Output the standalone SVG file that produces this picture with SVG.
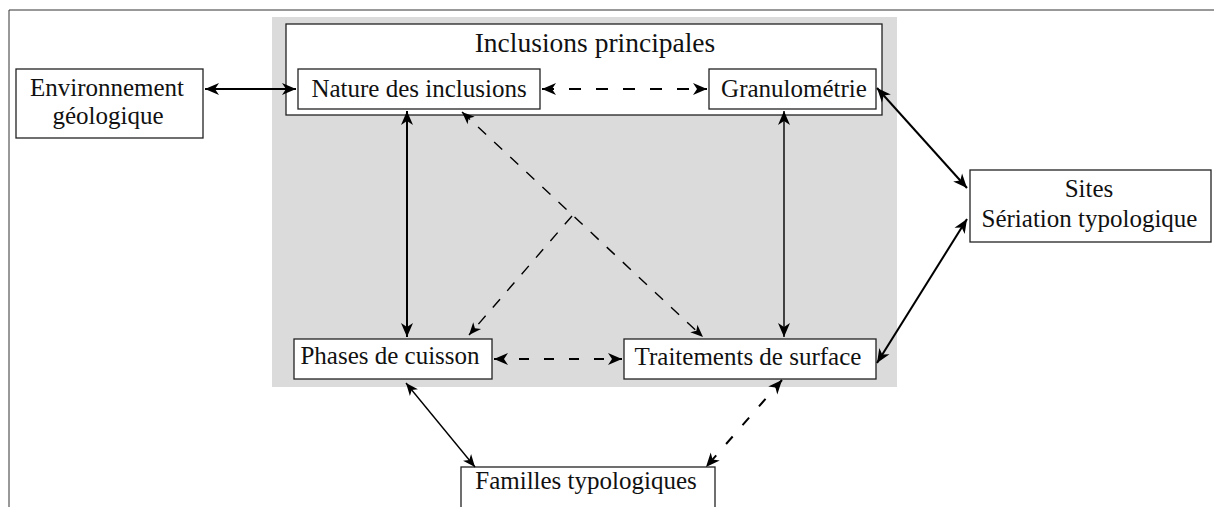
<svg xmlns="http://www.w3.org/2000/svg" width="1214" height="507" viewBox="0 0 1214 507">
<style>
  .box { fill: #ffffff; stroke: #222; stroke-width: 1.3; }
  .t { font-family: "Liberation Serif", "Times New Roman", serif; font-size: 25px; fill: #111; text-anchor: middle; }
  .title { font-size: 27.5px; }
  .c { fill: none; stroke: #000; }
  .thick { stroke-width: 2; }
  .thin { stroke-width: 1.4; }
  .dash1 { stroke-dasharray: 12 15; }
  .dash2 { stroke-dasharray: 10 15; }
  .dash3 { stroke-dasharray: 11 11; }
</style>
<defs>
  <marker id="ah" markerUnits="userSpaceOnUse" viewBox="-16 -8 18 16" markerWidth="18" markerHeight="16" refX="0" refY="0" orient="auto-start-reverse">
    <path d="M0,0 L-14,-6 L-10,0 L-14,6 Z" fill="#000"/>
  </marker>
  <marker id="ahs" markerUnits="userSpaceOnUse" viewBox="-16 -8 18 16" markerWidth="18" markerHeight="16" refX="0" refY="0" orient="auto-start-reverse">
    <path d="M0,0 L-12.5,-5.2 L-9,0 L-12.5,5.2 Z" fill="#000"/>
  </marker>
</defs>

<g id="frame">
  <path d="M9,507 L9,10 L1214,10" fill="none" stroke="#333" stroke-width="1"/>
</g>

<g id="background">
  <rect x="272" y="17" width="625" height="370" fill="#dbdbdb"/>
</g>

<g id="inclusions-principales">
  <rect class="box" x="286" y="24" width="596" height="91"/>
  <text class="t title" x="595" y="52">Inclusions principales</text>
</g>

<g id="nature">
  <rect class="box" x="298" y="69" width="242" height="40"/>
  <text class="t" x="419" y="97">Nature des inclusions</text>
</g>

<g id="granulometrie">
  <rect class="box" x="709" y="69" width="167" height="40"/>
  <text class="t" x="794" y="97">Granulométrie</text>
</g>

<g id="environnement">
  <rect class="box" x="16" y="69" width="187" height="69"/>
  <text class="t" x="107" y="96">Environnement</text>
  <text class="t" x="108" y="124">géologique</text>
</g>

<g id="sites">
  <rect class="box" x="970" y="170" width="241" height="72"/>
  <text class="t" x="1089" y="197">Sites</text>
  <text class="t" x="1089.5" y="227">Sériation typologique</text>
</g>

<g id="phases">
  <rect class="box" x="294" y="339" width="198" height="40"/>
  <text class="t" x="390" y="364">Phases de cuisson</text>
</g>

<g id="traitements">
  <rect class="box" x="624" y="339" width="252" height="40"/>
  <text class="t" x="748" y="365">Traitements de surface</text>
</g>

<g id="familles">
  <rect class="box" x="461" y="467" width="254" height="42"/>
  <text class="t" x="586" y="489">Familles typologiques</text>
</g>

<g id="connectors">
  <line class="c thick" x1="205" y1="89" x2="296" y2="89" marker-start="url(#ah)" marker-end="url(#ah)"/>
  <line class="c thick dash1" x1="542" y1="89" x2="707" y2="89" marker-start="url(#ah)" marker-end="url(#ah)"/>
  <line class="c thick" x1="407" y1="111" x2="407" y2="337" marker-start="url(#ah)" marker-end="url(#ah)"/>
  <line class="c thin" x1="784" y1="111" x2="784" y2="337" marker-start="url(#ah)" marker-end="url(#ah)"/>
  <line class="c thin dash3" x1="462" y1="112" x2="703" y2="337" marker-start="url(#ahs)" marker-end="url(#ahs)"/>
  <line class="c thin dash3" x1="572" y1="216" x2="469" y2="335" marker-end="url(#ahs)"/>
  <line class="c thick dash2" x1="494" y1="359" x2="622" y2="359" marker-start="url(#ah)" marker-end="url(#ah)"/>
  <line class="c thick" x1="877" y1="88" x2="967" y2="188" marker-start="url(#ah)" marker-end="url(#ah)"/>
  <line class="c thick" x1="877" y1="363" x2="967" y2="219" marker-start="url(#ah)" marker-end="url(#ah)"/>
  <line class="c thin" x1="406" y1="383" x2="475" y2="467" marker-start="url(#ahs)" marker-end="url(#ahs)"/>
  <line class="c thick dash2" x1="782" y1="380" x2="706" y2="467" marker-start="url(#ah)" marker-end="url(#ah)"/>
</g>
</svg>
